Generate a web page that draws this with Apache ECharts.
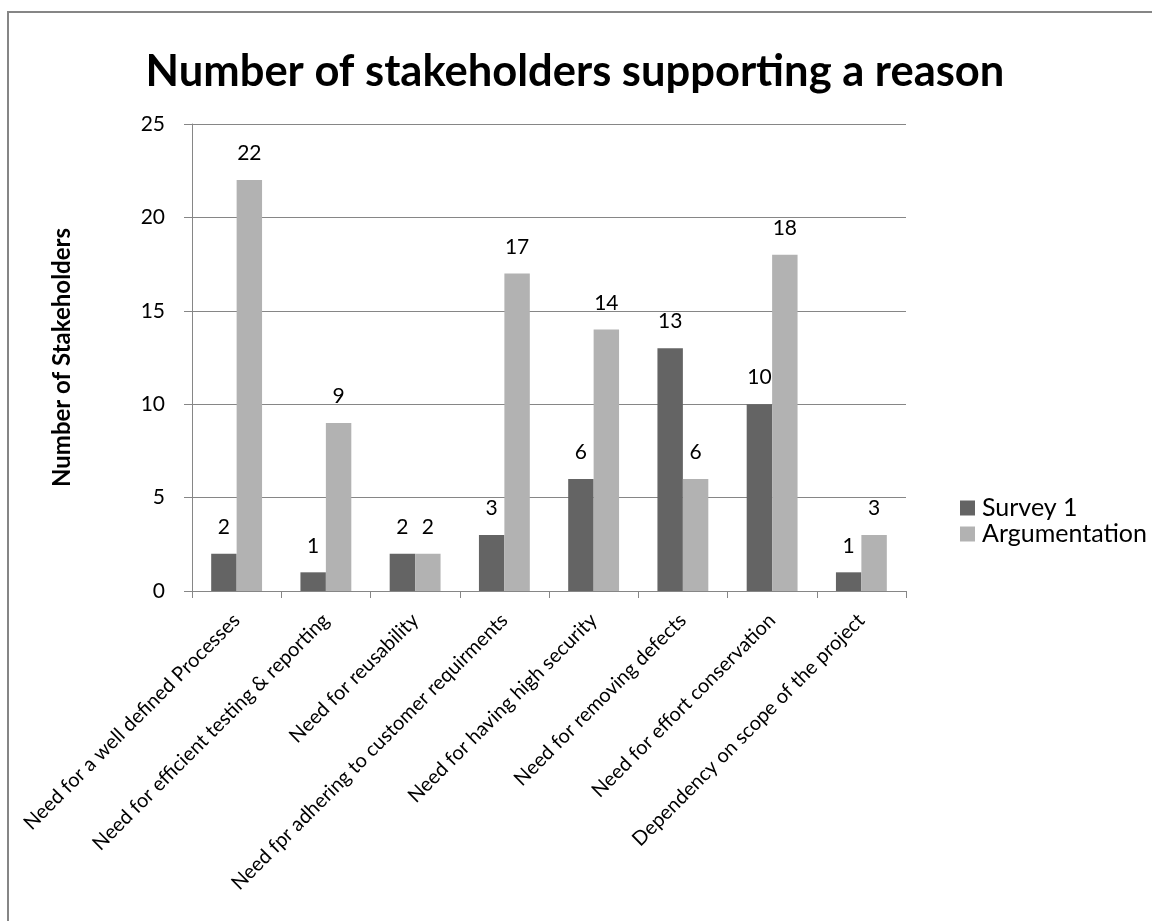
<!DOCTYPE html>
<html><head><meta charset="utf-8">
<script src="https://cdn.jsdelivr.net/npm/echarts@6/dist/echarts.min.js"></script>
<style>html,body{margin:0;padding:0;background:#fff}#c{width:1152px;height:921px}</style>
</head><body><div id="c"></div>
<script>
const categories = [
  "Need for a well defined Processes",
  "Need for efficient testing & reporting",
  "Need for reusability",
  "Need fpr adhering to customer requirments",
  "Need for having high security",
  "Need for removing defects",
  "Need for effort conservation",
  "Dependency on scope of the project"
];
const survey1 = [2, 1, 2, 3, 6, 13, 10, 1];
const argumentation = [22, 9, 2, 17, 14, 6, 18, 3];
const yTicks = { min: 0, max: 25, interval: 5 };

const FONT = "Lato, 'Open Sans', sans-serif";
const chart = echarts.init(document.getElementById('c'), null, { renderer: 'canvas' });
const labelStyle = { show: true, position: 'top', distance: 16, color: '#000', fontSize: 21, fontFamily: FONT };
chart.setOption({
  animation: false,
  backgroundColor: '#fff',
  graphic: [{
    type: 'rect', shape: { x: 8, y: 12, width: 1160, height: 930 },
    style: { fill: 'none', stroke: '#868686', lineWidth: 2 }, silent: true
  }],
  title: {
    text: 'Number of stakeholders supporting a reason',
    left: 570, textAlign: 'center', top: 45,
    textStyle: { fontFamily: FONT, fontWeight: 'bold', fontSize: 43.5, color: '#000' }
  },
  legend: {
    orient: 'vertical', left: 960, top: 495, padding: 0, itemWidth: 15, itemHeight: 15, itemGap: 0,
    icon: 'rect',
    textStyle: { fontFamily: FONT, fontSize: 25, lineHeight: 26, color: '#000', padding: [0, 0, 0, 2] },
    data: ['Survey 1', 'Argumentation']
  },
  grid: { left: 192, right: 1152 - 906, top: 124, bottom: 921 - 591, containLabel: false },
  xAxis: {
    type: 'category', data: categories,
    axisLine: { lineStyle: { color: '#868686', width: 1 } },
    axisTick: { show: true, length: 7, alignWithLabel: false, lineStyle: { color: '#868686' } },
    axisLabel: { rotate: 45, interval: 0, margin: 26, fontFamily: FONT, fontSize: 20, color: '#000' }
  },
  yAxis: {
    type: 'value', min: yTicks.min, max: yTicks.max, interval: yTicks.interval,
    name: 'Number of Stakeholders', nameLocation: 'middle', nameGap: 118, nameRotate: 90,
    nameTextStyle: { fontFamily: FONT, fontWeight: 'bold', fontSize: 24, color: '#000' },
    axisLine: { show: true, lineStyle: { color: '#868686', width: 1 } },
    axisTick: { show: true, length: 8, lineStyle: { color: '#868686' } },
    splitLine: { show: true, lineStyle: { color: '#868686', width: 1 } },
    axisLabel: { margin: 27, fontFamily: FONT, fontSize: 21, color: '#000' }
  },
  series: [
    { name: 'Survey 1', type: 'bar', data: survey1, barGap: '0%', barCategoryGap: '43%',
      itemStyle: { color: '#646464' }, label: labelStyle },
    { name: 'Argumentation', type: 'bar', data: argumentation, barGap: '0%', barCategoryGap: '43%',
      itemStyle: { color: '#b2b2b2' }, label: labelStyle }
  ]
});
</script></body></html>
